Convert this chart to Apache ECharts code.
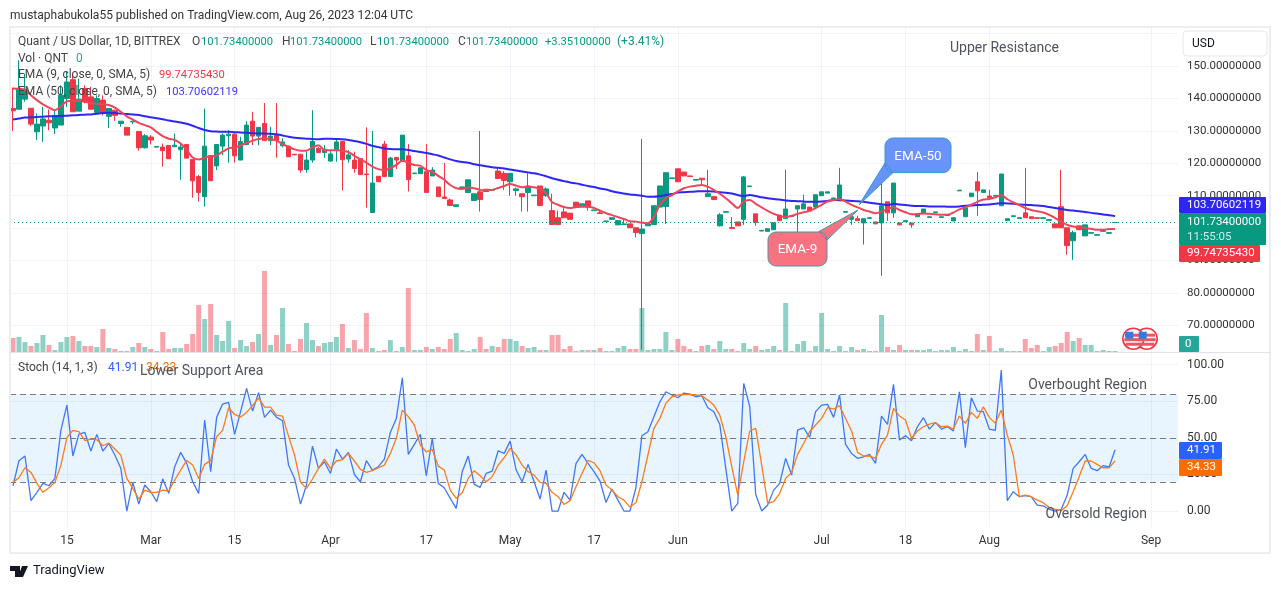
<!DOCTYPE html>
<html>
<head>
<meta charset="utf-8">
<title>Quant / US Dollar</title>
<script src="https://cdn.jsdelivr.net/npm/echarts@6/dist/echarts.min.js"></script>
<style>
  html, body { margin: 0; padding: 0; background: #fff; }
  #chart { width: 1281px; height: 589px; }
</style>
</head>
<body>
<div id="chart"></div>
<script>
// 日线数据，按蜡烛顺序，每行 10 根
const opens = [
  136.9,136.7,139.8,137.0,129.7,131.5,133.3,130.9,131.8,140.0,
  145.8,136.1,143.1,140.5,135.7,139.5,134.5,136.4,132.3,131.1,
  132.8,129.8,124.8,128.1,125.0,125.0,125.5,125.1,124.2,125.8,
  121.2,115.9,109.7,122.4,119.2,125.3,128.5,129.0,121.0,125.8,
  133.0,128.4,132.3,127.0,128.7,125.4,125.3,122.8,122.8,118.1,
  121.0,124.6,123.3,120.7,123.9,126.8,121.3,121.0,121.5,116.7,
  104.8,116.0,125.9,115.9,121.8,120.7,122.3,116.8,116.8,117.4,
  116.1,112.7,109.6,108.7,106.7,112.5,111.0,108.5,111.2,112.0,
  111.7,117.6,116.9,114.3,111.6,110.6,111.0,110.0,113.0,110.0,
  105.4,103.2,105.0,104.6,108.0,106.9,108.4,105.4,104.7,102.0,
  102.7,101.0,101.1,101.3,100.1,98.3,100.7,101.1,106.5,106.7,
  115.3,118.3,117.3,116.1,114.8,115.4,109.7,109.7,100.7,104.9,
  100.2,101.9,102.7,112.8,104.4,99.1,99.0,99.5,104.0,103.0,
  103.6,105.9,105.9,106.5,106.5,110.0,110.8,109.1,108.4,104.9,
  102.7,102.9,101.6,103.0,101.9,101.6,108.1,104.7,101.6,102.0,
  101.6,103.5,104.7,103.3,104.8,103.3,103.9,102.2,111.5,103.5,
  109.7,114.3,111.0,109.9,109.9,106.9,102.3,103.6,103.0,104.7,
  103.5,103.2,103.0,102.4,101.3,106.6,100.1,96.1,100.7,97.6,
  98.4,97.8,99.0,98.4,101.73
];
const closes = [
  136.2,143.1,142.7,132.1,132.1,133.7,132.5,134.8,141.0,145.1,
  135.9,139.8,139.0,136.7,140.0,135.4,136.9,134.8,133.0,128.7,
  133.0,124.8,128.5,127.2,125.2,123.9,121.4,125.6,125.0,121.6,
  114.6,111.0,125.3,114.6,125.8,128.7,129.0,122.3,126.7,131.8,
  128.4,131.1,127.0,128.4,127.0,126.6,122.0,122.6,117.9,121.0,
  126.8,123.3,124.3,122.9,126.6,121.1,122.6,118.4,116.5,116.5,
  113.9,114.3,115.9,121.6,121.0,128.7,115.0,117.0,118.6,111.0,
  117.9,109.7,109.1,107.0,107.2,112.7,114.9,110.6,108.8,111.3,
  111.9,115.3,114.7,116.9,112.1,109.7,113.0,110.2,107.0,112.1,
  101.1,101.1,103.2,102.7,106.4,107.5,106.5,105.6,104.5,102.2,
  103.2,102.3,101.3,100.1,98.6,99.7,101.3,106.9,113.0,117.1,
  115.5,114.3,116.1,115.9,115.0,114.9,110.6,108.8,104.1,105.1,
  99.9,100.7,115.8,113.0,101.7,99.3,99.8,101.7,102.3,105.9,
  103.8,106.9,107.5,105.3,110.3,111.2,111.2,109.3,113.3,105.1,
  103.5,102.3,102.9,103.2,101.3,106.9,104.7,113.9,101.0,102.3,
  101.0,104.4,105.9,103.5,105.0,103.5,104.1,103.2,111.7,106.3,
  110.8,111.5,111.8,109.3,110.1,116.7,102.9,103.8,103.2,103.2,
  102.9,103.0,103.2,102.6,100.1,100.1,94.6,98.6,99.5,101.0,
  98.6,98.0,99.2,98.6,101.73
];
const highs = [
  143.4,151.8,147.7,137.0,135.4,137.4,136.6,136.4,144.1,148.2,
  147.7,146.1,144.1,143.6,141.0,141.0,137.1,136.4,133.0,131.1,
  133.0,129.8,129.0,128.7,125.2,126.1,125.5,129.2,126.1,125.8,
  121.2,116.4,136.9,122.4,125.8,129.2,130.2,129.7,128.2,133.0,
  135.9,131.1,138.6,131.3,138.6,127.7,125.3,122.8,122.8,123.6,
  136.4,125.0,125.6,124.1,127.4,126.8,124.1,123.6,121.5,131.1,
  130.0,116.0,126.9,122.0,121.8,128.7,125.9,117.0,118.6,125.9,
  118.8,112.7,120.1,109.1,107.2,112.7,114.9,110.6,130.0,112.0,
  111.9,118.6,117.6,116.9,112.5,110.6,117.0,110.2,113.0,112.6,
  110.6,105.4,106.4,104.6,108.0,107.5,108.4,105.6,105.4,102.2,
  103.2,102.3,102.9,101.3,100.1,127.5,101.3,106.9,113.0,117.1,
  115.5,118.3,117.3,116.1,115.0,115.4,118.0,109.9,104.6,105.1,
  103.4,101.9,116.1,113.0,104.4,99.3,99.8,101.7,104.0,118.0,
  103.8,106.9,110.3,106.5,110.3,111.2,111.2,109.3,118.6,105.1,
  103.5,103.8,102.9,103.2,101.9,118.0,108.1,113.9,101.6,102.3,
  101.6,104.4,105.9,103.5,105.0,103.5,104.1,103.2,111.7,106.3,
  110.8,117.3,111.8,111.8,110.1,116.7,102.9,103.8,103.2,118.6,
  103.5,103.2,103.2,102.6,101.3,118.0,100.1,99.2,100.7,101.0,
  98.6,98.0,99.2,98.6,101.73
];
const lows = [
  130.0,136.7,139.0,131.5,127.2,126.6,130.2,129.0,131.8,137.4,
  135.9,136.1,138.5,136.7,135.4,134.8,130.9,133.1,131.3,128.7,
  132.1,123.9,124.6,125.8,125.0,119.0,121.4,125.1,114.9,121.6,
  109.4,108.2,106.6,114.6,117.9,122.5,120.2,120.2,121.0,125.6,
  125.6,125.6,127.0,125.6,121.7,124.9,122.0,122.6,117.1,117.1,
  120.2,123.3,121.7,120.5,120.5,111.6,120.2,117.1,116.5,106.3,
  104.8,114.3,115.9,115.9,118.2,120.7,111.3,116.8,116.7,111.0,
  116.1,109.7,109.1,106.8,106.7,112.5,111.0,108.5,105.1,111.3,
  111.7,115.3,111.8,110.0,110.0,105.1,105.1,110.0,107.0,109.7,
  101.1,101.1,103.2,102.7,106.4,106.9,105.4,105.4,104.5,102.0,
  102.7,101.0,101.1,100.1,97.1,62.5,100.7,101.1,106.5,101.3,
  115.3,114.3,116.1,115.9,114.8,113.5,109.7,108.8,100.5,104.9,
  99.9,100.7,101.0,112.8,100.7,99.1,99.0,99.5,102.3,103.0,
  103.6,91.8,105.9,105.3,106.5,110.0,110.8,109.1,108.4,104.9,
  101.0,102.3,94.9,103.0,101.3,85.3,102.2,103.2,101.0,102.0,
  100.1,103.5,104.7,103.3,104.8,103.3,103.9,102.2,111.5,103.5,
  109.7,103.8,111.0,109.3,109.9,106.9,102.3,103.6,103.0,103.2,
  102.9,103.0,103.0,102.4,100.1,100.1,91.8,90.2,99.5,97.6,
  98.4,97.8,99.0,98.2,101.73
];
const volumes = [
  14,15,10,6,9,17,7,2,10,15,
  16,11,6,6,5,23,4,3,1,1,
  5,9,5,3,1,20,3,4,4,8,
  18,47,33,48,17,11,31,4,12,6,
  10,18,81,7,17,44,8,1,13,29,
  12,6,9,10,15,28,4,12,3,39,
  4,1,2,12,1,5,64,2,2,5,
  3,5,3,13,19,2,1,3,15,3,
  6,5,13,13,11,6,4,5,2,2,
  17,17,3,6,1,2,2,2,4,1,
  1,4,6,3,3,44,2,3,3,20,
  2,13,6,3,1,6,7,3,11,3,
  3,1,9,3,6,2,3,6,2,49,
  1,8,11,1,6,39,3,1,6,1,
  5,2,3,1,1,37,5,2,7,2,
  2,2,2,3,1,2,2,5,1,3,
  1,18,2,16,1,4,1,1,1,13,
  4,7,1,5,6,9,20,11,14,7,
  7,1,2,1,1
];
const ema9 = [
  143.1,143.0,142.7,141.0,139.5,138.2,137.2,136.4,137.6,139.1,
  139.3,139.2,139.0,138.6,138.4,138.2,138.0,137.2,135.9,134.5,
  133.5,132.5,131.8,131.1,129.7,128.4,127.6,127.2,126.1,124.1,
  121.8,121.2,121.8,122.2,122.4,123.6,124.6,124.9,125.5,126.3,
  127.0,127.5,127.7,127.4,127.0,125.9,125.1,124.3,123.9,123.9,
  124.9,125.6,124.1,124.0,124.1,123.8,123.5,122.3,121.2,120.2,
  119.0,118.2,117.9,118.5,119.5,120.8,120.2,119.5,119.3,117.9,
  117.4,116.1,114.9,113.3,112.3,112.1,112.5,112.3,111.8,111.7,
  111.8,112.4,113.0,113.6,113.1,112.6,112.8,112.6,112.1,110.8,
  108.0,107.2,106.5,106.2,106.5,106.6,106.6,106.2,105.4,104.6,
  104.0,103.4,102.8,102.1,102.0,101.7,101.5,103.4,107.2,109.2,
  110.2,111.3,112.3,112.8,113.1,113.3,112.8,111.8,110.6,109.2,
  107.7,106.2,108.2,108.7,107.5,106.4,105.3,104.4,103.8,103.4,
  103.8,104.4,104.9,105.3,106.2,107.2,108.2,108.7,108.9,108.2,
  107.2,106.4,105.6,105.1,104.6,105.1,105.9,106.4,105.6,104.9,
  104.3,104.3,104.5,104.4,104.3,104.1,104.1,104.8,105.8,106.4,
  107.2,108.1,108.8,109.0,109.5,110.2,108.9,107.9,107.1,106.2,
  105.6,105.2,104.8,104.1,103.1,102.0,101.0,100.5,100.3,100.0,
  99.8,99.5,99.5,99.7,99.75
];
const ema50 = [
  133.5,133.8,134.1,134.2,134.3,134.4,134.5,134.5,134.6,134.7,
  134.8,134.9,135.0,135.1,135.3,135.5,135.6,135.5,135.4,135.2,
  135.1,134.9,134.5,134.2,133.9,133.6,133.2,132.9,132.6,132.2,
  131.6,130.9,130.3,129.9,129.8,129.7,129.7,129.6,129.5,129.4,
  129.3,129.2,129.2,129.1,129.0,128.6,128.2,127.9,127.7,127.6,
  127.5,127.4,127.6,127.6,127.5,127.4,127.2,126.9,126.5,126.0,
  125.4,125.0,124.6,124.4,124.3,124.3,124.1,123.8,123.5,123.2,
  122.8,122.4,121.8,121.2,120.7,120.4,120.2,119.7,119.4,119.1,
  118.8,118.6,118.4,118.1,117.8,117.5,117.2,116.9,116.5,116.0,
  115.4,114.9,114.5,114.1,113.8,113.4,113.0,112.7,112.2,111.9,
  111.4,111.0,110.7,110.4,110.2,110.0,109.7,109.7,109.9,110.2,
  110.5,111.0,111.1,111.2,111.3,111.4,111.4,111.3,111.1,110.9,
  110.7,110.2,109.9,110.2,109.9,109.5,109.2,109.0,108.8,108.5,
  108.4,108.3,108.2,108.1,108.1,108.2,108.4,108.7,108.7,108.5,
  108.4,108.3,108.1,107.8,107.6,107.4,107.1,107.5,107.3,107.1,
  106.9,106.8,106.8,106.7,106.7,106.7,106.6,106.6,106.7,106.9,
  107.0,107.1,107.2,107.3,107.5,107.7,107.6,107.5,107.3,107.2,
  107.1,107.0,106.8,106.5,106.2,105.9,105.6,105.4,105.2,105.0,
  104.7,104.5,104.2,104.0,103.7
];
const stochK = [
  17.3,34.4,37.6,7.1,12.8,18.9,17.3,22.3,55.3,72.4,
  37.6,52.6,53.7,41.0,52.4,41.0,46.2,38.3,29.2,0,
  19.6,4.8,17.8,13.2,6.4,21.9,12.1,30.3,40.1,32.6,
  20.0,12.1,62.2,26.9,64.0,73.1,74.3,52.4,67.9,83.8,
  68.3,80.9,64.0,69.0,64.0,61.7,31.4,22.3,4.8,17.8,
  44.4,29.2,33.7,25.7,42.4,35.5,40.1,25.0,20.0,34.4,
  28.0,30.3,35.5,53.7,63.3,91.1,38.7,45.6,52.4,24.1,
  49.7,18.9,15.9,8.7,1.8,26.9,37.6,18.2,16.2,25.7,
  27.3,41.2,39.4,47.8,28.0,20.0,31.9,20.0,8.2,28.0,
  0,0,12.8,7.5,32.6,38.7,32.6,26.9,20.5,5.9,
  15.0,7.5,0,0,15.9,51.5,54.2,64.5,74.7,81.5,
  79.3,77.4,80.6,79.9,78.1,78.8,70.6,67.9,59.2,29.2,
  0,5.2,87.2,71.3,11.4,0,4.1,14.3,18.9,36.0,
  24.6,55.3,56.9,50.3,67.9,72.4,72.9,64.0,79.3,45.6,
  39.4,36.0,37.1,38.7,32.6,64.9,59.2,86.6,48.5,51.5,
  48.1,57.6,63.8,56.0,60.6,56.0,57.6,54.7,81.5,43.3,
  77.4,68.3,67.9,56.0,55.1,96.3,7.1,13.2,9.8,10.5,
  9.8,4.1,3.6,1.1,0,1.1,10.9,29.2,33.7,38.7,
  29.2,27.6,31.0,30.1,41.91
];
const stochD = [
  19.6,22.8,29.6,26.4,18.9,12.8,15.9,19.6,31.4,50.1,
  55.1,54.2,48.1,49.2,48.7,44.6,46.5,42.4,38.3,22.3,
  15.5,8.2,14.3,12.8,12.8,14.3,13.7,21.2,28.0,34.6,
  31.4,22.3,31.9,34.6,50.8,55.1,70.6,66.0,64.2,67.4,
  72.0,77.4,71.0,71.0,65.6,64.9,51.2,38.3,19.6,15.5,
  21.9,29.2,35.5,29.2,34.2,35.1,39.4,34.2,28.5,26.4,
  27.6,29.6,31.4,39.4,49.7,69.0,64.5,58.8,45.1,40.5,
  42.1,30.7,28.0,14.3,8.7,12.5,22.3,27.6,24.1,20.0,
  23.4,31.4,36.4,42.8,38.3,31.4,26.9,24.6,19.6,18.9,
  12.8,9.8,4.5,7.1,16.6,25.7,34.6,33.0,27.6,17.8,
  14.3,9.8,7.5,2.7,5.7,20.0,38.3,56.5,63.3,73.6,
  78.1,79.3,79.5,79.7,79.3,78.8,75.8,72.4,65.6,50.8,
  30.3,10.9,33.7,54.7,56.5,31.4,5.2,6.4,12.1,22.3,
  26.4,38.7,46.2,54.2,58.8,63.3,70.8,69.7,72.0,63.3,
  54.7,40.1,37.6,37.6,36.0,45.6,51.9,70.2,64.9,62.2,
  49.7,54.7,57.6,59.4,60.4,57.6,58.1,56.0,64.9,59.9,
  67.4,63.3,71.3,64.0,59.9,69.0,51.9,38.3,9.8,10.9,
  9.8,7.5,5.7,2.5,1.1,0.4,3.6,13.2,23.4,34.2,
  34.2,31.9,29.6,29.6,34.33
];

// 时间轴刻度
const tickIndexes = [9, 23, 37, 53, 69, 83, 97, 111, 135, 149, 163, 190];
const tickLabels = ['15', 'Mar', '15', 'Apr', '17', 'May', '17', 'Jun', 'Jul', '18', 'Aug', 'Sep'];
const priceGridLines = [70, 80, 90, 100, 110, 120, 130, 140, 150, 160];
const priceLabels = [70, 80, 90, 100, 110, 120, 130, 140, 150];  // 160 被 USD 按钮挡住
const stochTicks = [0, 25, 50, 75, 100];
const stochLevels = [20, 50, 80];
const lastPrice = 101.734;
const slotCount = 195;

const GREEN = '#089981';
const RED = '#f23645';
const BLUE_EMA = '#2e26f5';
const RED_EMA = '#ee4558';
const GRID_LINE = '#f0f3fa';
const FONT = 'Roboto, sans-serif';
const NUM = 11.2;  // 数字比正文窄一点

const slots = Array.from({ length: slotCount }, (_, i) => String(i));
const candles = opens.map((o, i) => [o, closes[i], lows[i], highs[i]]);
const isTick = i => tickIndexes.includes(i);

// 图上的文字
function label(x, y, text, fill, size, align) {
    return {
        type: 'text', x, y: y + 1, z: 100, silent: true,
        style: {
            text, fill,
            font: `${size || 12}px ${FONT}`,
            textAlign: align || 'left',
            textVerticalAlign: 'middle'
        }
    };
}

// 右侧价格标签
function tag(x, y, w, h, fill, lines) {
    const items = [{
        type: 'rect', z: 90, silent: true,
        shape: { x, y, width: w, height: h, r: 1 },
        style: { fill }
    }];
    lines.forEach(l => items.push(label(x + (l.dx || 8), y + l.dy, l.text, l.fill || '#fff', NUM + 0.3)));
    return items;
}

// 圆角矩形的一角
function corner(cx, cy, r, from) {
    const pts = [];
    for (let k = 0; k <= 5; k++) {
        const a = from + k * Math.PI / 10;
        pts.push([cx + r * Math.cos(a), cy + r * Math.sin(a)]);
    }
    return pts;
}

// 带尾巴的气泡，尾巴的三个点插在左下角之前或者之后
function callout(box, tail, fill, stroke, text) {
    const { x, y, w, h } = box;
    const r = 8;
    const tl = corner(x + r, y + r, r, Math.PI);
    const tr = corner(x + w - r, y + r, r, -Math.PI / 2);
    const br = corner(x + w - r, y + h - r, r, 0);
    const bl = corner(x + r, y + h - r, r, Math.PI / 2);
    const points = box.tailOn === 'top'
        ? [...tl, ...tail, ...tr, ...br, ...bl]
        : [...tl, ...tr, ...br, ...tail, ...bl];
    return [{
        type: 'polygon', z: 80, silent: true,
        shape: { points },
        style: { fill, stroke, lineWidth: 1 }
    }, label(x + w / 2, y + h / 2, text, '#fff', 13.5, 'center')];
}

// 小美国国旗
function flag(cx, cy) {
    const r = 10.5;
    const items = [{
        type: 'circle', z: 70, silent: true,
        shape: { cx, cy, r },
        style: { fill: '#fff', stroke: RED, lineWidth: 1.6 }
    }];
    [[-5, 3], [-0.5, 3], [4, 3]].forEach(s => {
        const half = Math.sqrt(Math.max(0, r * r - Math.pow(s[0] + 1.5, 2))) - 1.5;
        items.push({
            type: 'rect', z: 71, silent: true,
            shape: { x: cx - half, y: cy + s[0], width: half * 2, height: s[1] },
            style: { fill: '#f0545f' }
        });
    });
    items.push({
        type: 'rect', z: 72, silent: true,
        shape: { x: cx - 8, y: cy - 7, width: 8, height: 7 },
        style: { fill: '#2f7de0' }
    });
    return items;
}

const graphics = [
    // 外框
    { type: 'rect', z: 60, silent: true, shape: { x: 10, y: 27, width: 1260, height: 526 }, style: { fill: 'none', stroke: '#eceef4', lineWidth: 2 } },
    { type: 'line', z: 60, silent: true, shape: { x1: 10, y1: 352.5, x2: 1270, y2: 352.5 }, style: { stroke: '#e0e3eb', lineWidth: 1 } },
    // USD 按钮
    { type: 'rect', z: 95, silent: true, shape: { x: 1183, y: 31, width: 84, height: 25, r: 4 }, style: { fill: '#fff', stroke: '#e6e8ef', lineWidth: 1 } },
    label(1192, 43, 'USD', '#131722', 12),

    label(10, 14.5, 'mustaphabukola55 published on TradingView.com, Aug 26, 2023 12:04 UTC', '#333', 12),
    label(18, 41, 'Quant / US Dollar, 1D, BITTREX', '#444', 12),
    label(192, 41, 'O', '#444', 12), label(201, 41, '101.73400000', GREEN, NUM),
    label(282, 41, 'H', '#444', 12), label(290, 41, '101.73400000', GREEN, NUM),
    label(370, 41, 'L', '#444', 12), label(377, 41, '101.73400000', GREEN, NUM),
    label(458, 41, 'C', '#444', 12), label(466, 41, '101.73400000', GREEN, NUM),
    label(545, 41, '+3.35100000', GREEN, NUM), label(617, 41, '(+3.41%)', GREEN, 12),
    label(18, 58, 'Vol · QNT', '#444', 12), label(76, 58, '0', '#26a69a', 12),
    label(18, 74, 'EMA (9, close, 0, SMA, 5)', '#444', 12), label(159, 74, '99.74735430', RED, NUM),
    label(18, 91, 'EMA (50, close, 0, SMA, 5)', '#444', 12), label(166, 91, '103.70602119', '#3a33ff', NUM),
    label(18, 367, 'Stoch (14, 1, 3)', '#444', 12), label(108, 367, '41.91', '#2962ff', 12), label(146, 367, '34.33', '#ff6d00', 12),

    // 标注
    label(950, 47, 'Upper Resistance', '#50535e', 14),
    label(140, 370, 'Lower Support Area', '#50535e', 14),
    label(1147, 384, 'Overbought Region', '#50535e', 14, 'right'),
    label(1147, 513, 'Oversold Region', '#50535e', 14, 'right'),

    ...callout({ x: 885, y: 138, w: 66, h: 34.6, tailOn: 'bottom' }, [[893, 172.6], [859, 205], [885, 163]], '#6a92fb', '#2e9ad0', 'EMA-50'),
    ...callout({ x: 768, y: 232, w: 59, h: 34, tailOn: 'top' }, [[818, 232], [858, 210], [827, 240]], '#f87280', '#4c94a6', 'EMA-9'),

    ...flag(1146.7, 338.7),
    ...flag(1133.3, 338.7),

    // 右侧标签
    ...tag(1179, 197, 87, 16, '#2e26f5', [{ text: '103.70602119', dy: 7.5 }]),
    ...tag(1179, 213, 87, 32, '#089981', [{ text: '101.73400000', dy: 8 }, { text: '11:55:05', dy: 23, fill: '#cfeee6' }]),
    ...tag(1179, 245, 81, 17, RED, [{ text: '99.74735430', dy: 7.5 }]),
    ...tag(1179, 336, 20, 16, '#26a69a', [{ text: '0', dy: 7.5, dx: 6 }]),
    ...tag(1179, 442, 43, 17, '#2962ff', [{ text: '41.91', dy: 7.5 }]),
    ...tag(1179, 459, 43, 17, '#ff6d00', [{ text: '34.33', dy: 7.5 }]),

    // TradingView 标志
    { type: 'polygon', z: 60, silent: true, shape: { points: [[10, 566], [20, 566], [20, 577], [15, 577], [15, 571], [10, 571]] }, style: { fill: '#131722' } },
    { type: 'polygon', z: 60, silent: true, shape: { points: [[22, 566], [28, 566], [23, 577], [18, 577]] }, style: { fill: '#131722' } },
    label(33, 570, 'TradingView', '#131722', 13)
];

const chart = echarts.init(document.getElementById('chart'));

const baseX = {
    type: 'category',
    data: slots,
    boundaryGap: true,
    axisLine: { show: false },
    axisTick: { show: false, alignWithLabel: true, interval: i => isTick(i) },
    axisLabel: { show: false },
    splitLine: { show: true, alignWithLabel: true, interval: i => isTick(i), lineStyle: { color: GRID_LINE, width: 1 } }
};

chart.setOption({
    animation: false,
    backgroundColor: '#fff',
    graphic: { elements: graphics },
    grid: [
        { left: 10, top: 28, width: 1168, height: 324 },
        { left: 10, top: 252, width: 1168, height: 100 },
        { left: 10, top: 353, width: 1168, height: 174 }
    ],
    xAxis: [
        { ...baseX, gridIndex: 0 },
        { ...baseX, gridIndex: 1, splitLine: { show: false } },
        {
            ...baseX, gridIndex: 2,
            axisLabel: {
                show: true, margin: 8, color: '#333', fontSize: 12, fontFamily: FONT,
                interval: i => isTick(i),
                formatter: (v, i) => tickLabels[tickIndexes.indexOf(i)]
            }
        }
    ],
    yAxis: [
        {
            type: 'value', gridIndex: 0, position: 'right', min: 61.76, max: 161.76,
            axisLine: { show: false },
            axisTick: { show: false, customValues: priceGridLines },
            axisLabel: {
                customValues: priceLabels, margin: 9, padding: [2, 0, 0, 0],
                color: '#333', fontSize: NUM + 0.3, fontFamily: FONT,
                formatter: v => v.toFixed(8)
            },
            splitLine: { lineStyle: { color: GRID_LINE, width: 1 } }
        },
        {
            type: 'value', gridIndex: 1, min: 0, max: 100,
            axisLine: { show: false }, axisTick: { show: false }, axisLabel: { show: false }, splitLine: { show: false }
        },
        {
            type: 'value', gridIndex: 2, position: 'right', min: -10.9, max: 108,
            axisLine: { show: false },
            axisTick: { show: false, customValues: stochTicks },
            axisLabel: {
                customValues: stochTicks, margin: 9, padding: [2, 0, 0, 0],
                color: '#333', fontSize: 12, fontFamily: FONT,
                formatter: v => v.toFixed(2)
            },
            splitLine: { lineStyle: { color: GRID_LINE, width: 1 } }
        }
    ],
    series: [
        {
            name: 'Vol', type: 'bar', xAxisIndex: 1, yAxisIndex: 1, z: 1,
            barWidth: 5,
            data: volumes,
            itemStyle: {
                color: p => closes[p.dataIndex] >= opens[p.dataIndex] ? 'rgba(8,153,129,0.45)' : 'rgba(242,54,69,0.45)'
            }
        },
        {
            name: 'QNT', type: 'candlestick', xAxisIndex: 0, yAxisIndex: 0, z: 3,
            barWidth: 5,
            data: candles,
            itemStyle: { color: GREEN, color0: RED, borderColor: GREEN, borderColor0: RED, borderWidth: 1 },
            markLine: {
                silent: true, symbol: 'none', animation: false,
                label: { show: false },
                lineStyle: { color: GREEN, type: [1, 3], width: 1 },
                data: [{ yAxis: lastPrice }]
            }
        },
        {
            name: 'EMA 50', type: 'line', xAxisIndex: 0, yAxisIndex: 0, z: 4,
            data: ema50, showSymbol: false, smooth: 0.3,
            lineStyle: { color: BLUE_EMA, width: 2 }
        },
        {
            name: 'EMA 9', type: 'line', xAxisIndex: 0, yAxisIndex: 0, z: 5,
            data: ema9, showSymbol: false, smooth: 0.3,
            lineStyle: { color: RED_EMA, width: 2 }
        },
        {
            name: '%K', type: 'line', xAxisIndex: 2, yAxisIndex: 2, z: 4,
            data: stochK, showSymbol: false,
            lineStyle: { color: '#3f78f5', width: 1.3 },
            markArea: {
                silent: true,
                itemStyle: { color: 'rgba(33,150,243,0.1)' },
                data: [[{ yAxis: stochLevels[0] }, { yAxis: stochLevels[2] }]]
            },
            markLine: {
                silent: true, symbol: 'none', animation: false,
                label: { show: false },
                lineStyle: { color: '#787b86', type: [6, 4], width: 1 },
                data: stochLevels.map(v => ({ yAxis: v }))
            }
        },
        {
            name: '%D', type: 'line', xAxisIndex: 2, yAxisIndex: 2, z: 5,
            data: stochD, showSymbol: false,
            lineStyle: { color: '#ff7a1a', width: 1.3 }
        }
    ]
});
</script>
</body>
</html>
